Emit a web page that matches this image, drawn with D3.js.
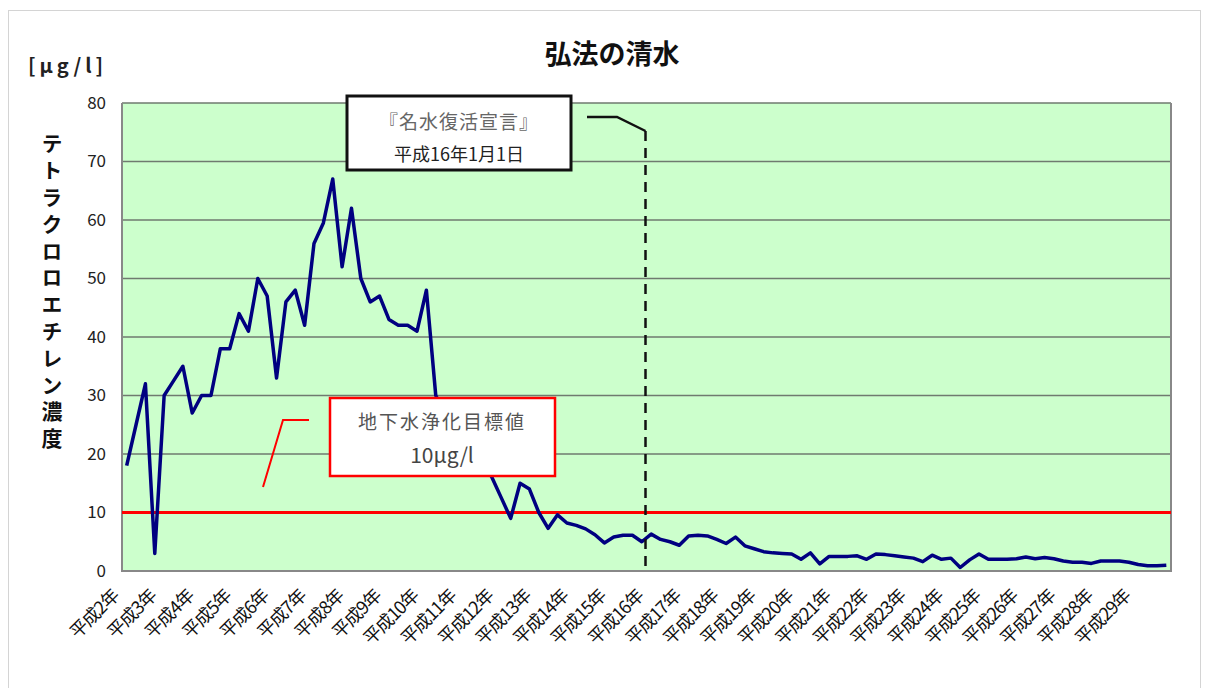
<!DOCTYPE html>
<html>
<head>
<meta charset="utf-8">
<script src="https://cdn.jsdelivr.net/npm/d3@7"></script>
<style>
  body { margin: 0; background: #fff; }
  text { font-family: "Noto Sans CJK JP", sans-serif; }
</style>
</head>
<body>
<div id="hook"></div>
<script>
// Data
var yearLabels = ["平成2年","平成3年","平成4年","平成5年","平成6年","平成7年","平成8年","平成9年","平成10年",
  "平成11年","平成12年","平成13年","平成14年","平成15年","平成16年","平成17年","平成18年","平成19年",
  "平成20年","平成21年","平成22年","平成23年","平成24年","平成25年","平成26年","平成27年","平成28年","平成29年"];
// quarterly readings (4 per year)
var values = [
  18, 25, 32, 3,   30, 32.5, 35, 27,   30, 30, 38, 38,   44, 41, 50, 47,
  33, 46, 48, 42,  56, 59.5, 67, 52,   62, 50, 46, 47,   43, 42, 42, 41,
  48, 30, 27, 25,  23, 20.5, 18.5, 16, 12.5, 9, 15, 14,  10, 7.3, 9.6, 8.2,
  7.8, 7.2, 6.2, 4.8, 5.8, 6.1, 6.1, 5.0,  6.3, 5.4, 5.0, 4.4,  6.0, 6.1, 6.0, 5.4,
  4.7, 5.8, 4.3, 3.8,  3.3, 3.1, 3.0, 2.9,  2.0, 3.1, 1.2, 2.5,  2.5, 2.5, 2.6, 2.0,
  2.9, 2.8, 2.6, 2.4,  2.2, 1.6, 2.7, 2.0,  2.2, 0.6, 1.9, 2.9,  2.0, 2.0, 2.0, 2.1,
  2.4, 2.1, 2.3, 2.1,  1.7, 1.5, 1.5, 1.3,  1.7, 1.7, 1.7, 1.5,  1.1, 0.9, 0.9, 1.0
];
var yTicks = [0, 10, 20, 30, 40, 50, 60, 70, 80];
var targetValue = 10;          // 地下水浄化目標値
var declarationIndex = 56;     // 平成16年1月1日
var perYear = 4;

var W = 1206, H = 688;
var pL = 122, pR = 1171, pT = 103, pB = 571;

var svg = d3.select("#hook").append("svg")
    .attr("width", W)
    .attr("height", H);

// chart frame
svg.append("rect")
    .attr("x", 8.5).attr("y", 10.5)
    .attr("width", 1192).attr("height", 700)
    .attr("fill", "#fff").attr("stroke", "#d4d4d4");

var x = d3.scaleBand()
    .domain(d3.range(values.length))
    .range([pL, pR])
    .padding(0);

var y = d3.scaleLinear()
    .domain([0, 80])
    .range([pB, pT]);

// plot area
svg.append("rect")
    .attr("x", pL).attr("y", pT)
    .attr("width", pR - pL).attr("height", pB - pT)
    .attr("fill", "#ccffcc");

// grid lines
svg.selectAll("line.grid")
    .data(yTicks.slice(1))
    .enter()
        .append("line")
            .attr("class", "grid")
            .attr("x1", pL).attr("x2", pR)
            .attr("y1", function(d) { return y(d) })
            .attr("y2", function(d) { return y(d) })
            .attr("stroke", "#6f7a6f")
            .attr("stroke-width", 1.5);

// plot border
svg.append("path")
    .attr("d", "M" + pL + "," + pT + "V" + pB + "H" + pR + "V" + pT)
    .attr("fill", "none")
    .attr("stroke", "#888")
    .attr("stroke-width", 2);

// y axis labels
var yAxis = d3.axisLeft(y).tickValues(yTicks).tickSize(0).tickPadding(16);
var gy = svg.append("g").attr("transform", "translate(" + pL + ",0)").call(yAxis);
gy.select(".domain").remove();
gy.selectAll("text")
    .attr("font-family", "Liberation Sans, Arial, sans-serif")
    .attr("font-size", 17)
    .attr("fill", "#222");

// x axis labels (one per year)
svg.selectAll("text.xlab")
    .data(yearLabels)
    .enter()
        .append("text")
            .attr("class", "xlab")
            .attr("transform", function(d, i) {
                return "translate(" + (x(i * perYear) - 2) + ",597) rotate(-45)";
            })
            .attr("text-anchor", "end")
            .attr("font-size", 18)
            .attr("letter-spacing", -1)
            .attr("fill", "#111")
            .text(function(d) { return d });

// target line
svg.append("line")
    .attr("x1", pL).attr("x2", pR)
    .attr("y1", y(targetValue)).attr("y2", y(targetValue))
    .attr("stroke", "#ff0000")
    .attr("stroke-width", 3);

// data line
var line = d3.line()
    .x(function(d, i) { return x(i) + x.bandwidth() / 2 })
    .y(function(d) { return y(d) });

svg.append("path")
    .datum(values)
    .attr("d", line)
    .attr("fill", "none")
    .attr("stroke", "#000080")
    .attr("stroke-width", 3.5)
    .attr("stroke-linejoin", "round");

// declaration dashed line + leader
var dx = x(declarationIndex) - 1;
svg.append("line")
    .attr("x1", dx).attr("x2", dx)
    .attr("y1", 131).attr("y2", pB)
    .attr("stroke", "#111")
    .attr("stroke-width", 2.5)
    .attr("stroke-dasharray", "10,7");
svg.append("polyline")
    .attr("points", "587,117 617,117 " + dx + ",131")
    .attr("fill", "none")
    .attr("stroke", "#111")
    .attr("stroke-width", 2.5);

// declaration callout
svg.append("rect")
    .attr("x", 347).attr("y", 96)
    .attr("width", 224).attr("height", 74)
    .attr("fill", "#fff")
    .attr("stroke", "#111")
    .attr("stroke-width", 3);
svg.append("text")
    .attr("x", 459).attr("y", 129)
    .attr("text-anchor", "middle")
    .attr("font-size", 19)
    .attr("letter-spacing", 1)
    .attr("fill", "#666")
    .text("『名水復活宣言』");
svg.append("text")
    .attr("x", 459).attr("y", 161)
    .attr("text-anchor", "middle")
    .attr("font-size", 18)
    .attr("fill", "#222")
    .text("平成16年1月1日");

// target callout + leader
svg.append("polyline")
    .attr("points", "263,487 283,420 309,420")
    .attr("fill", "none")
    .attr("stroke", "#ff0000")
    .attr("stroke-width", 2);
svg.append("rect")
    .attr("x", 330).attr("y", 398)
    .attr("width", 225).attr("height", 78)
    .attr("fill", "#fff")
    .attr("stroke", "#ff0000")
    .attr("stroke-width", 2.5);
svg.append("text")
    .attr("x", 442).attr("y", 429)
    .attr("text-anchor", "middle")
    .attr("font-size", 19)
    .attr("letter-spacing", 2)
    .attr("fill", "#555")
    .text("地下水浄化目標値");
svg.append("text")
    .attr("x", 442).attr("y", 463)
    .attr("text-anchor", "middle")
    .attr("font-family", "Liberation Serif, serif")
    .attr("font-size", 21)
    .attr("fill", "#444")
    .text("10μg/l");

// title
svg.append("text")
    .attr("x", 612).attr("y", 64)
    .attr("text-anchor", "middle")
    .attr("font-size", 27)
    .attr("font-weight", "bold")
    .attr("fill", "#111")
    .text("弘法の清水");

// unit
svg.append("text")
    .attr("x", 28).attr("y", 73)
    .attr("font-size", 20)
    .attr("font-weight", "bold")
    .attr("letter-spacing", 4)
    .attr("fill", "#222")
    .text("[μg/l]");

// vertical y title
svg.append("text")
    .attr("x", 52).attr("y", 133)
    .style("writing-mode", "vertical-rl")
    .style("text-orientation", "upright")
    .attr("font-size", 21)
    .attr("font-weight", "bold")
    .attr("letter-spacing", 5.8)
    .attr("fill", "#111")
    .text("テトラクロロエチレン濃度");
</script>
</body>
</html>
